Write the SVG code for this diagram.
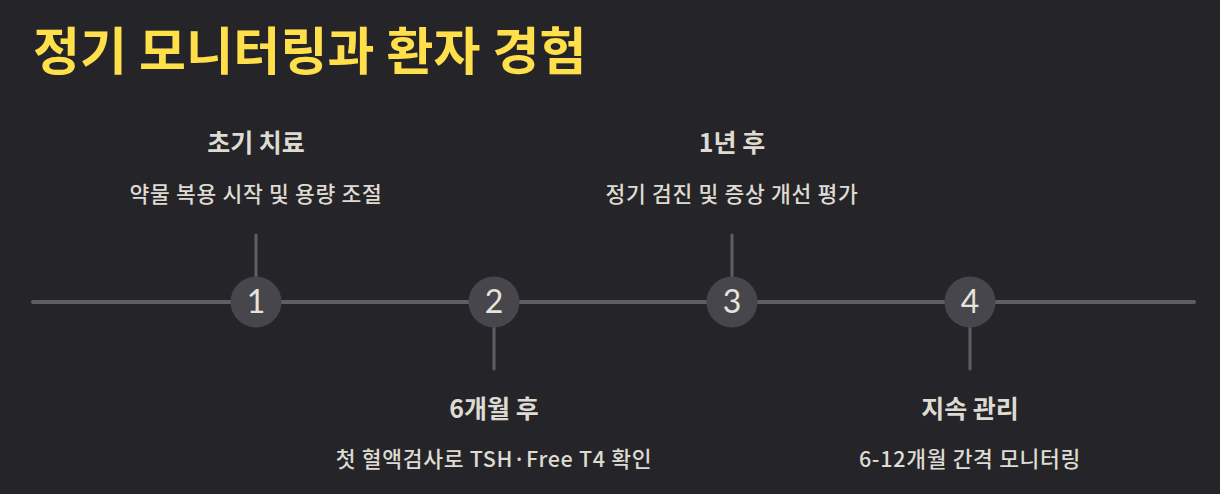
<svg xmlns="http://www.w3.org/2000/svg" width="1220" height="494" viewBox="0 0 1220 494">
<style>
.t{font-family:"Noto Sans CJK KR","Noto Sans",sans-serif;text-anchor:middle;fill:#dedbd2}
.h{font-size:25px;font-weight:700}
.d{font-size:21.5px;font-weight:500;letter-spacing:0.7px}
.n{font-family:"Lato","Noto Sans",sans-serif;font-size:32px;font-weight:400;fill:#e6e3da;text-anchor:middle}
.tick{stroke:#5e5e65;stroke-width:3;stroke-linecap:round}
.dot{fill:#46464c}
</style>
<rect width="1220" height="494" fill="#252529"/>
<text x="33" y="70" font-family="'Noto Sans CJK KR',sans-serif" font-size="51" font-weight="700" letter-spacing="0.2" fill="#ffe04b">정기 모니터링과 환자 경험</text>
<g id="connectors">
<line x1="33" y1="302" x2="1194" y2="302" stroke="#5e5e65" stroke-width="4" stroke-linecap="round"/>
<line class="tick" x1="256" y1="235" x2="256" y2="278"/>
<line class="tick" x1="494" y1="326" x2="494" y2="369"/>
<line class="tick" x1="732" y1="235" x2="732" y2="278"/>
<line class="tick" x1="970" y1="326" x2="970" y2="369"/>
</g>
<g id="node1">
<circle class="dot" cx="256" cy="302" r="25.5"/>
<text class="n" x="256" y="313">1</text>
<text class="t h" x="256" y="152">초기 치료</text>
<text class="t d" x="256" y="202">약물 복용 시작 및 용량 조절</text>
</g>
<g id="node2">
<circle class="dot" cx="494" cy="302" r="25.5"/>
<text class="n" x="494" y="313">2</text>
<text class="t h" x="494" y="418">6개월 후</text>
<text class="t d" x="494" y="467">첫 혈액검사로 TSH·Free T4 확인</text>
</g>
<g id="node3">
<circle class="dot" cx="732" cy="302" r="25.5"/>
<text class="n" x="732" y="313">3</text>
<text class="t h" x="732" y="152">1년 후</text>
<text class="t d" x="732" y="202">정기 검진 및 증상 개선 평가</text>
</g>
<g id="node4">
<circle class="dot" cx="970" cy="302" r="25.5"/>
<text class="n" x="970" y="313">4</text>
<text class="t h" x="970" y="418">지속 관리</text>
<text class="t d" x="970" y="467">6-12개월 간격 모니터링</text>
</g>
</svg>
